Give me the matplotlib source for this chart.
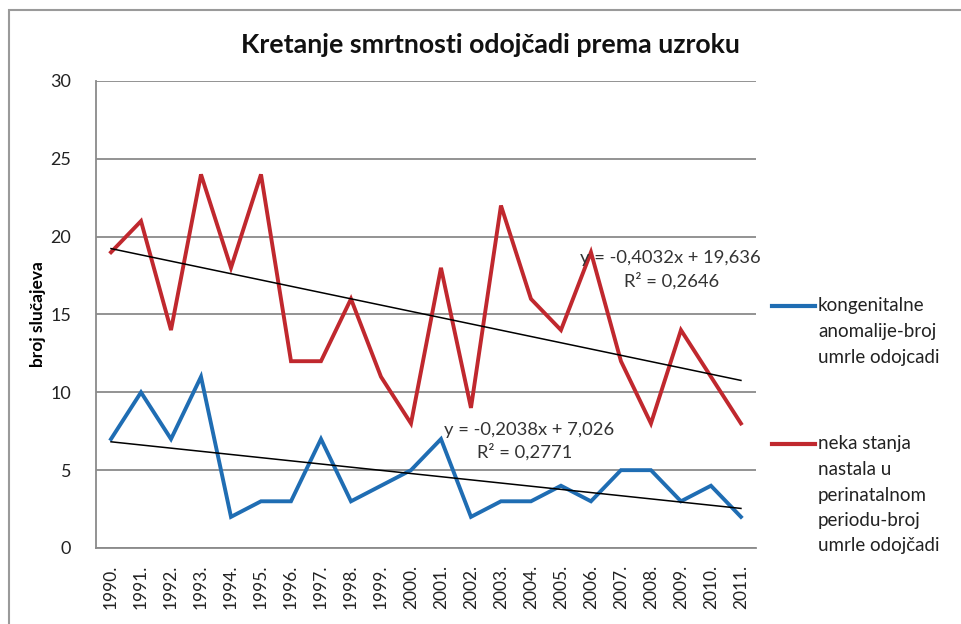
import matplotlib
matplotlib.use('Agg')
import matplotlib.pyplot as plt
from matplotlib.patches import Rectangle
from matplotlib.lines import Line2D
import numpy as np

plt.rcParams['font.family'] = ['Lato', 'DejaVu Sans']

#---data
years = ['1990.', '1991.', '1992.', '1993.', '1994.', '1995.', '1996.', '1997.',
         '1998.', '1999.', '2000.', '2001.', '2002.', '2003.', '2004.', '2005.',
         '2006.', '2007.', '2008.', '2009.', '2010.', '2011.']
kongenitalne = [7, 10, 7, 11, 2, 3, 3, 7, 3, 4, 5, 7, 2, 3, 3, 4, 3, 5, 5, 3, 4, 2]
perinatalne = [19, 21, 14, 24, 18, 24, 12, 12, 16, 11, 8, 18, 9, 22, 16, 14, 19, 12, 8, 14, 11, 8]

#trendline coefficients as printed on the chart (x = 1..22)
trend_blue = [-0.2038, 7.026]
trend_red = [-0.4032, 19.636]
eq_blue = ['y = -0,2038x + 7,026', 'R² = 0,2771']
eq_red = ['y = -0,4032x + 19,636', 'R² = 0,2646']

series_names = ['kongenitalne\nanomalije-broj\numrle odojcadi',
                'neka stanja\nnastala u\nperinatalnom\nperiodu-broj\numrle odojčadi']

blue = '#1f6db3'
red = '#c0282e'

W, H = 962, 624
fig = plt.figure(figsize=(W / 100, H / 100), dpi=100)
ax = fig.add_axes([0.0998, 0.1218, 0.686, 0.7484])

x = np.arange(len(years))
xt = x + 1

ax.plot(x, kongenitalne, color=blue, lw=2.8, solid_joinstyle='miter', zorder=3)
ax.plot(x, perinatalne, color=red, lw=2.8, solid_joinstyle='miter', zorder=3)
ax.plot(x, trend_blue[0] * xt + trend_blue[1], color='black', lw=1.1, zorder=4)
ax.plot(x, trend_red[0] * xt + trend_red[1], color='black', lw=1.1, zorder=4)

#trendline equations
eqkw = dict(ha='center', va='center', fontsize=13.2, color='#333333', zorder=5)
ax.text(18.65, 18.6, eq_red[0], **eqkw)
ax.text(18.7, 17.15, eq_red[1], **eqkw)
ax.text(13.95, 7.6, eq_blue[0], **eqkw)
ax.text(13.8, 6.2, eq_blue[1], **eqkw)

ax.set_xlim(-0.5, len(years) - 0.5)
ax.set_ylim(0, 30)
ax.set_yticks(range(0, 31, 5))
ax.set_xticks(x)
ax.set_xticklabels(years, rotation=90, fontsize=12.5)
ax.tick_params(axis='y', labelsize=13, length=0, pad=18, labelcolor='#222222')
ax.tick_params(axis='x', length=0, pad=12, labelcolor='#222222')
ax.grid(axis='y', color='#8a8a8a', lw=1.3)
ax.set_axisbelow(True)
for s in ['top', 'right']:
    ax.spines[s].set_visible(False)
for s in ['left', 'bottom']:
    ax.spines[s].set_color('#8a8a8a')
    ax.spines[s].set_linewidth(1.3)

ax.set_ylabel('broj slučajeva', fontsize=12.5, fontweight='bold', labelpad=3)
fig.text(490 / W, 1 - 45 / H, 'Kretanje smrtnosti odojčadi prema uzroku', ha='center', va='center',
         fontsize=19.3, fontweight='bold', color='#111111')

#legend drawn by hand so the key sits on the first text line
for color, name, ypix in [(blue, series_names[0], 306), (red, series_names[1], 444)]:
    fig.add_artist(Line2D([772 / W, 815 / W], [1 - ypix / H] * 2, color=color, lw=3,
                          transform=fig.transFigure))
    for i, line in enumerate(name.split('\n')):
        fig.text(818 / W, 1 - (ypix + i * 25.5) / H, line, ha='left', va='center',
                 fontsize=13.5, color='#222222')

#outer chart border
fig.patches.append(Rectangle((9 / W, -0.1), 1.2, 1.1 - 10 / H, transform=fig.transFigure,
                             fill=False, edgecolor='#9a9a9a', lw=1.5))

fig.savefig('out.png', dpi=100)
